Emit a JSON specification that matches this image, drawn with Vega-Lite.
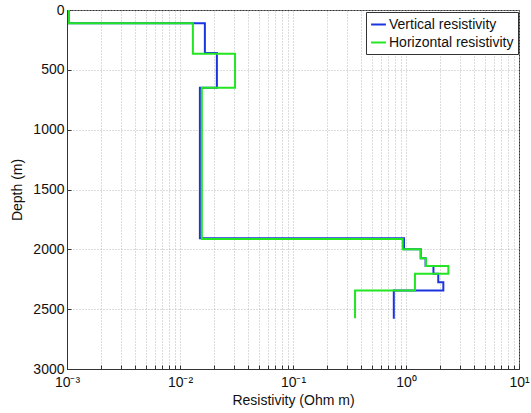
{
  "$schema": "https://vega.github.io/schema/vega-lite/v6.json",
  "width": 452,
  "height": 359,
  "autosize": {"type": "none"},
  "padding": {"left": 67, "top": 10, "right": 12, "bottom": 44},
  "background": "white",
  "config": {
    "font": "Liberation Sans",
    "view": {"stroke": "#333333", "strokeWidth": 1},
    "axis": {
      "domainColor": "#333333",
      "tickColor": "#333333",
      "labelColor": "#111111",
      "titleColor": "#111111",
      "labelFont": "Liberation Sans",
      "titleFont": "Liberation Sans",
      "labelFontSize": 14,
      "titleFontSize": 14,
      "titleFontWeight": "normal",
      "grid": true,
      "gridColor": "#b8b8b8",
      "gridDash": [1, 2],
      "gridWidth": 1
    }
  },
  "data": {
    "values": [
      {"s": "Vertical resistivity", "i": 0, "d": 0, "r": 0.00104},
      {"s": "Vertical resistivity", "i": 1, "d": 110, "r": 0.00104},
      {"s": "Vertical resistivity", "i": 2, "d": 110, "r": 0.0166},
      {"s": "Vertical resistivity", "i": 3, "d": 360, "r": 0.0166},
      {"s": "Vertical resistivity", "i": 4, "d": 360, "r": 0.0212},
      {"s": "Vertical resistivity", "i": 5, "d": 650, "r": 0.0212},
      {"s": "Vertical resistivity", "i": 6, "d": 650, "r": 0.0150},
      {"s": "Vertical resistivity", "i": 7, "d": 1908, "r": 0.0150},
      {"s": "Vertical resistivity", "i": 8, "d": 1908, "r": 0.96},
      {"s": "Vertical resistivity", "i": 9, "d": 2000, "r": 0.96},
      {"s": "Vertical resistivity", "i": 10, "d": 2000, "r": 1.35},
      {"s": "Vertical resistivity", "i": 11, "d": 2075, "r": 1.35},
      {"s": "Vertical resistivity", "i": 12, "d": 2075, "r": 1.49},
      {"s": "Vertical resistivity", "i": 13, "d": 2140, "r": 1.49},
      {"s": "Vertical resistivity", "i": 14, "d": 2140, "r": 1.75},
      {"s": "Vertical resistivity", "i": 15, "d": 2205, "r": 1.75},
      {"s": "Vertical resistivity", "i": 16, "d": 2205, "r": 1.93},
      {"s": "Vertical resistivity", "i": 17, "d": 2275, "r": 1.93},
      {"s": "Vertical resistivity", "i": 18, "d": 2275, "r": 2.14},
      {"s": "Vertical resistivity", "i": 19, "d": 2345, "r": 2.14},
      {"s": "Vertical resistivity", "i": 20, "d": 2345, "r": 0.78},
      {"s": "Vertical resistivity", "i": 21, "d": 2580, "r": 0.78},
      {"s": "Horizontal resistivity", "i": 0, "d": 0, "r": 0.00104},
      {"s": "Horizontal resistivity", "i": 1, "d": 110, "r": 0.00104},
      {"s": "Horizontal resistivity", "i": 2, "d": 110, "r": 0.0130},
      {"s": "Horizontal resistivity", "i": 3, "d": 365, "r": 0.0130},
      {"s": "Horizontal resistivity", "i": 4, "d": 365, "r": 0.0307},
      {"s": "Horizontal resistivity", "i": 5, "d": 650, "r": 0.0307},
      {"s": "Horizontal resistivity", "i": 6, "d": 650, "r": 0.0156},
      {"s": "Horizontal resistivity", "i": 7, "d": 1914, "r": 0.0156},
      {"s": "Horizontal resistivity", "i": 8, "d": 1914, "r": 0.935},
      {"s": "Horizontal resistivity", "i": 9, "d": 2000, "r": 0.935},
      {"s": "Horizontal resistivity", "i": 10, "d": 2000, "r": 1.35},
      {"s": "Horizontal resistivity", "i": 11, "d": 2075, "r": 1.35},
      {"s": "Horizontal resistivity", "i": 12, "d": 2075, "r": 1.50},
      {"s": "Horizontal resistivity", "i": 13, "d": 2140, "r": 1.50},
      {"s": "Horizontal resistivity", "i": 14, "d": 2140, "r": 2.37},
      {"s": "Horizontal resistivity", "i": 15, "d": 2205, "r": 2.37},
      {"s": "Horizontal resistivity", "i": 16, "d": 2205, "r": 1.20},
      {"s": "Horizontal resistivity", "i": 17, "d": 2345, "r": 1.20},
      {"s": "Horizontal resistivity", "i": 18, "d": 2345, "r": 0.354},
      {"s": "Horizontal resistivity", "i": 19, "d": 2575, "r": 0.354}
    ]
  },
  "encoding": {
    "x": {
      "field": "r",
      "type": "quantitative",
      "scale": {"type": "log", "domain": [0.001, 10], "nice": false},
      "axis": {
        "title": "Resistivity (Ohm m)",
        "values": [0.001, 0.002, 0.003, 0.004, 0.005, 0.006, 0.007, 0.008, 0.009, 0.01, 0.02, 0.03, 0.04, 0.05, 0.06, 0.07, 0.08, 0.09, 0.1, 0.2, 0.3, 0.4, 0.5, 0.6, 0.7, 0.8, 0.9, 1, 2, 3, 4, 5, 6, 7, 8, 9, 10],
        "labelExpr": "abs(datum.value-0.001)<1e-9 ? '10⁻³' : (abs(datum.value-0.01)<1e-9 ? '10⁻²' : (abs(datum.value-0.1)<1e-9 ? '10⁻¹' : (abs(datum.value-1)<1e-9 ? '10⁰' : (abs(datum.value-10)<1e-9 ? '10¹' : ''))))",
        "labelOverlap": false,
        "labelFlush": false,
        "labelBound": false,
        "tickSize": -4,
        "labelPadding": 10,
        "titlePadding": 4,
        "domain": true
      }
    },
    "y": {
      "field": "d",
      "type": "quantitative",
      "scale": {"domain": [0, 3000], "reverse": true, "nice": false},
      "axis": {
        "title": "Depth (m)",
        "format": "d",
        "values": [0, 500, 1000, 1500, 2000, 2500, 3000],
        "tickSize": -4,
        "labelPadding": 7,
        "titlePadding": 8
      }
    },
    "order": {"field": "i", "type": "quantitative"},
    "color": {
      "field": "s",
      "type": "nominal",
      "scale": {"domain": ["Vertical resistivity", "Horizontal resistivity"], "range": ["#1a35e0", "#22e622"]},
      "legend": {
        "title": null,
        "orient": "none",
        "legendX": 299,
        "legendY": 2,
        "symbolType": "stroke",
        "symbolSize": 220,
        "symbolStrokeWidth": 2,
        "labelFontSize": 14,
        "labelFont": "Liberation Sans",
        "labelColor": "#111111",
        "strokeColor": "#333333",
        "fillColor": "white",
        "padding": 4,
        "rowPadding": 2,
        "labelOffset": 2
      }
    }
  },
  "layer": [
    {
      "transform": [{"filter": "datum.s == 'Vertical resistivity'"}],
      "mark": {"type": "line", "strokeWidth": 2, "clip": true}
    },
    {
      "transform": [{"filter": "datum.s == 'Horizontal resistivity'"}],
      "mark": {"type": "line", "strokeWidth": 2, "clip": true}
    }
  ]
}
